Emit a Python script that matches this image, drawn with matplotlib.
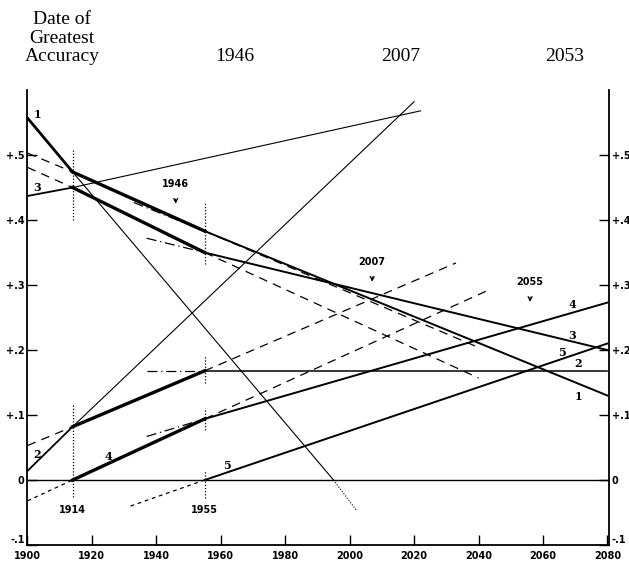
import matplotlib.pyplot as plt

# breakpoints of the fitted curves (year, value)
years = [1900, 1914, 1955, 2080]
curve1 = [0.557, 0.474, 0.383, 0.130]
curve3 = [0.437, 0.450, 0.350, 0.200]
curve2 = [0.014, 0.082, 0.168, 0.168]
years4 = [1914, 1955, 2080]
curve4 = [0.000, 0.094, 0.273]
years5 = [1955, 2080]
curve5 = [0.000, 0.210]

# thin projections of the first segments (x0, y0, x1, y1)
proj_thin = [(1914, 0.474, 1995, 0.000),
             (1914, 0.450, 2022, 0.568),
             (1914, 0.082, 2020, 0.582)]
proj_thin_dotted = [(1995, 0.000, 2002, -0.046)]

# dashed projections of the 1914-1955 segments
proj_dashed = [(1900, 0.503, 1914, 0.474), (1955, 0.383, 2040, 0.204),
               (1900, 0.481, 1914, 0.450), (1955, 0.350, 2040, 0.157),
               (1900, 0.053, 1914, 0.082), (1955, 0.168, 2033, 0.334),
               (1955, 0.094, 2043, 0.292)]
proj_short = [(1900, -0.032, 1914, 0.000), (1932, -0.040, 1955, 0.000)]
# dash-dot back projections of the 1955-2080 segments
proj_dashdot = [(1933, 0.427, 1955, 0.383), (1937, 0.372, 1955, 0.350),
                (1937, 0.168, 1955, 0.168), (1937, 0.067, 1955, 0.094)]

# dotted marker verticals (year, y0, y1)
verticals = [(1914, 0.400, 0.508), (1914, -0.026, 0.117),
             (1955, 0.332, 0.426), (1955, 0.150, 0.193),
             (1955, 0.077, 0.111), (1955, -0.028, 0.015)]

yticks = [-0.1, 0, 0.1, 0.2, 0.3, 0.4, 0.5]
ylabels = ["-.1", "0", "+.1", "+.2", "+.3", "+.4", "+.5"]
xticks = list(range(1900, 2081, 20))

header = ["1946", "2007", "2053"]
header_x = [0.374, 0.637, 0.898]

fig = plt.figure(figsize=(6.29, 5.62), dpi=100)
ax = fig.add_axes([0.0437, 0.0302, 0.9245, 0.8096])
k = "black"

# zero line
ax.plot([1900, 2080], [0, 0], color=k, lw=1.0)

# main curves: medium first part, thick middle, medium last
ax.plot(years[:2], curve1[:2], color=k, lw=2.0)
ax.plot(years[:2], curve3[:2], color=k, lw=1.3)
ax.plot(years[:2], curve2[:2], color=k, lw=1.3)
for c in (curve1, curve3, curve2):
    ax.plot(years[1:3], c[1:3], color=k, lw=2.4)
ax.plot(years4[:2], curve4[:2], color=k, lw=2.4)
ax.plot(years[2:], curve1[2:], color=k, lw=1.4)
ax.plot(years[2:], curve3[2:], color=k, lw=1.4)
ax.plot(years[2:], curve2[2:], color=k, lw=1.1)
ax.plot(years4[1:], curve4[1:], color=k, lw=1.4)
ax.plot(years5, curve5, color=k, lw=1.4)

for x0, y0, x1, y1 in proj_thin:
    ax.plot([x0, x1], [y0, y1], color=k, lw=0.8)
for x0, y0, x1, y1 in proj_thin_dotted:
    ax.plot([x0, x1], [y0, y1], color=k, lw=0.8, ls=(0, (1, 1.5)))
for x0, y0, x1, y1 in proj_dashed:
    ax.plot([x0, x1], [y0, y1], color=k, lw=0.9, ls=(0, (7, 5)))
for x0, y0, x1, y1 in proj_short:
    ax.plot([x0, x1], [y0, y1], color=k, lw=0.9, ls=(0, (3, 3)))
for x0, y0, x1, y1 in proj_dashdot:
    ax.plot([x0, x1], [y0, y1], color=k, lw=0.9, ls=(0, (8, 3, 1, 3)))
for x, y0, y1 in verticals:
    ax.plot([x, x], [y0, y1], color=k, lw=0.9, ls=(0, (1, 1.5)))

# curve numbers
lab = dict(fontsize=8, family="DejaVu Serif", fontweight="bold")
for x, y, s in [(1903, 0.562, "1"), (1903, 0.450, "3"), (1903, 0.040, "2"),
                (1925, 0.036, "4"), (1962, 0.023, "5"), (2071, 0.128, "1"),
                (2071, 0.179, "2"), (2069, 0.222, "3"), (2069, 0.270, "4"),
                (2066, 0.196, "5")]:
    ax.text(x, y, s, ha="center", va="center", **lab)

small = dict(fontsize=7, family="DejaVu Sans", fontweight="bold")
ax.text(1914, -0.046, "1914", ha="center", va="center", **small)
ax.text(1955, -0.046, "1955", ha="center", va="center", **small)
for x, y, s in [(1946, 0.455, "1946"), (2007, 0.335, "2007"),
                (2056, 0.304, "2055")]:
    ax.annotate(s, xy=(x, y - 0.03), xytext=(x, y), ha="center",
                va="center", arrowprops=dict(arrowstyle="->", lw=0.9,
                                             color=k, shrinkA=5, shrinkB=0),
                **small)

ax.set_xlim(1900, 2080.5)
ax.set_ylim(-0.1, 0.6)
ax.spines["top"].set_visible(False)
for s in ("left", "right", "bottom"):
    ax.spines[s].set_linewidth(1.3)
ax.set_xticks(xticks)
ax.set_xticklabels([str(t) for t in xticks], **small)
ax.set_yticks(yticks)
ax.set_yticklabels(ylabels, **small)
ax.tick_params(axis="both", direction="in", length=7, width=1.0,
               right=True, labelright=True, pad=2)
ax.tick_params(axis="x", pad=4)
# lift the lowest y labels clear of the year labels
low = ax.yaxis.get_major_ticks()[0]
low.label1.set_va("bottom")
low.label2.set_va("bottom")

serif = dict(family="Liberation Serif", fontsize=14, ha="center", va="center")
fig.text(0.099, 0.966, "Date of", **serif)
fig.text(0.099, 0.932, "Greatest", **serif)
fig.text(0.099, 0.900, "Accuracy", **serif)
for x, s in zip(header_x, header):
    fig.text(x, 0.900, s, **serif)

fig.savefig("out.png", dpi=100)
